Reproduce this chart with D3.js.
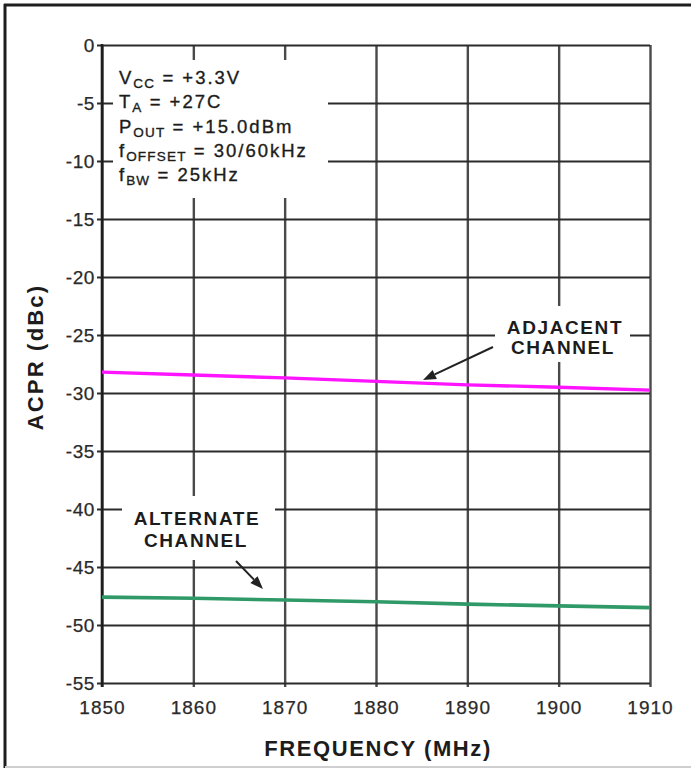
<!DOCTYPE html>
<html>
<head>
<meta charset="utf-8">
<script src="https://cdn.jsdelivr.net/npm/d3@7"></script>
<style>
  html, body { margin: 0; padding: 0; background: #fff; }
  svg { display: block; font-family: "Liberation Sans", Arial, Helvetica, sans-serif; }
</style>
</head>
<body>
<svg id="chart" width="691" height="770"></svg>
<script>
// Frequency sweep (MHz)
const frequencies = [1850, 1860, 1870, 1880, 1890, 1900, 1910];
// ACPR values (dBc) for each channel
const adjacentChannel  = [-28.2, -28.45, -28.7, -29.0, -29.3, -29.5, -29.75];
const alternateChannel = [-47.6, -47.7, -47.85, -48.0, -48.2, -48.35, -48.5];
// Axis ticks
const xTicks = [1850, 1860, 1870, 1880, 1890, 1900, 1910];
const yTicks = [0, -5, -10, -15, -20, -25, -30, -35, -40, -45, -50, -55];
// Condition notes: [main symbol, subscript, rest]
const conditions = [
  ["V", "CC", " = +3.3V"],
  ["T", "A", " = +27C"],
  ["P", "OUT", " = +15.0dBm"],
  ["f", "OFFSET", " = 30/60kHz"],
  ["f", "BW", " = 25kHz"]
];

const svg = d3.select("#chart");
const plot = { left: 102, top: 45, right: 650, bottom: 683 };
const w = plot.right - plot.left, h = plot.bottom - plot.top;

const x = d3.scaleLinear().domain([1850, 1910]).range([0, w]);
const y = d3.scaleLinear().domain([0, -55]).range([0, h]);
const plain = d => String(d); // keep ASCII hyphen for negatives

// outer frame
svg.append("line").attr("x1", 5).attr("x2", 5).attr("y1", 4).attr("y2", 768)
  .attr("stroke", "#1e1e1e").attr("stroke-width", 3);
svg.append("line").attr("x1", 4).attr("x2", 691).attr("y1", 5).attr("y2", 5)
  .attr("stroke", "#1e1e1e").attr("stroke-width", 3);
svg.append("line").attr("x1", 5).attr("x2", 691).attr("y1", 767).attr("y2", 767)
  .attr("stroke", "#cfcfcf").attr("stroke-width", 2);

const g = svg.append("g").attr("transform", `translate(${plot.left},${plot.top})`);

// vertical grid + bottom axis labels
const xAxis = g.append("g").attr("transform", `translate(0,${h})`)
  .call(d3.axisBottom(x).tickValues(xTicks).tickFormat(plain)
    .tickSizeInner(-h).tickSizeOuter(0).tickPadding(18));
xAxis.select(".domain").remove();
xAxis.selectAll(".tick line").attr("y1", 4).attr("stroke", "#4a4a4a").attr("stroke-width", 2.4);
xAxis.selectAll(".tick text").attr("fill", "#2a2a2a").attr("font-size", 19)
  .attr("stroke", "#2a2a2a").attr("stroke-width", 0.25)
  .style("letter-spacing", "1px");

// horizontal grid + left axis labels
const yAxis = g.append("g")
  .call(d3.axisLeft(y).tickValues(yTicks).tickFormat(plain)
    .tickSizeInner(-w).tickSizeOuter(0).tickPadding(7));
yAxis.select(".domain").remove();
yAxis.selectAll(".tick line").attr("x1", -5).attr("stroke", "#2b2b2b").attr("stroke-width", 2.2);
yAxis.selectAll(".tick text").attr("fill", "#2a2a2a").attr("font-size", 19)
  .attr("stroke", "#2a2a2a").attr("stroke-width", 0.25)
  .style("letter-spacing", "0.6px");

// left axis line
g.append("line").attr("x1", 0).attr("x2", 0).attr("y1", -1).attr("y2", h + 4)
  .attr("stroke", "#1e1e1e").attr("stroke-width", 2.6);

// label backgrounds that break the grid
const boxes = [
  { x0: 113, y0: 60, x1: 328, y1: 198 },
  { x0: 495, y0: 306, x1: 630, y1: 362 },
  { x0: 122, y0: 496, x1: 275, y1: 560 }
];
svg.selectAll("rect.bg").data(boxes).join("rect").attr("class", "bg")
  .attr("x", d => d.x0).attr("y", d => d.y0)
  .attr("width", d => d.x1 - d.x0).attr("height", d => d.y1 - d.y0)
  .attr("fill", "#fff");

// series
const line = d3.line().x((d, i) => x(frequencies[i])).y(d => y(d));
g.append("path").datum(adjacentChannel).attr("d", line)
  .attr("fill", "none").attr("stroke", "#ff14ff").attr("stroke-width", 3.4);
g.append("path").datum(alternateChannel).attr("d", line)
  .attr("fill", "none").attr("stroke", "#2f9a68").attr("stroke-width", 3.6);

// condition notes
const notes = svg.append("g").attr("fill", "#1c1c1c").attr("font-size", 18.5)
  .attr("stroke", "#1c1c1c").attr("stroke-width", 0.35)
  .style("letter-spacing", "2px");
const baselines = [84, 108, 133, 157, 181];
conditions.forEach((c, i) => {
  const t = notes.append("text").attr("x", 119).attr("y", baselines[i]);
  t.append("tspan").text(c[0]);
  t.append("tspan").attr("font-size", 13.5).attr("dy", 4).style("letter-spacing", "1.2px").text(c[1]);
  t.append("tspan").attr("dy", -4).text(c[2]);
});

// channel labels
const labels = svg.append("g").attr("fill", "#1c1c1c").attr("font-size", 19)
  .attr("font-weight", "bold").attr("text-anchor", "middle").style("letter-spacing", "1.6px");
labels.append("text").attr("x", 565).attr("y", 334).text("ADJACENT");
labels.append("text").attr("x", 563).attr("y", 354).text("CHANNEL");
labels.append("text").attr("x", 197).attr("y", 525).text("ALTERNATE");
labels.append("text").attr("x", 196).attr("y", 547).text("CHANNEL");

// arrows
function arrow(x1, y1, x2, y2) {
  const a = Math.atan2(y2 - y1, x2 - x1), len = 13, half = 5;
  const bx = x2 - len * Math.cos(a), by = y2 - len * Math.sin(a);
  svg.append("line").attr("x1", x1).attr("y1", y1).attr("x2", bx).attr("y2", by)
    .attr("stroke", "#222").attr("stroke-width", 2);
  svg.append("path")
    .attr("d", `M${x2},${y2}L${bx + half * Math.sin(a)},${by - half * Math.cos(a)}L${bx - half * Math.sin(a)},${by + half * Math.cos(a)}Z`)
    .attr("fill", "#222");
}
arrow(493, 347, 423, 380);
arrow(236, 561, 263, 589);

// axis titles
svg.append("text").attr("x", 378).attr("y", 756).attr("text-anchor", "middle")
  .attr("font-size", 22).attr("font-weight", "bold").attr("fill", "#1c1c1c")
  .style("letter-spacing", "1.6px").text("FREQUENCY (MHz)");
svg.append("text").attr("transform", "translate(43,357) rotate(-90)").attr("text-anchor", "middle")
  .attr("font-size", 22).attr("font-weight", "bold").attr("fill", "#1c1c1c")
  .style("letter-spacing", "2.2px").text("ACPR (dBc)");
</script>
</body>
</html>
